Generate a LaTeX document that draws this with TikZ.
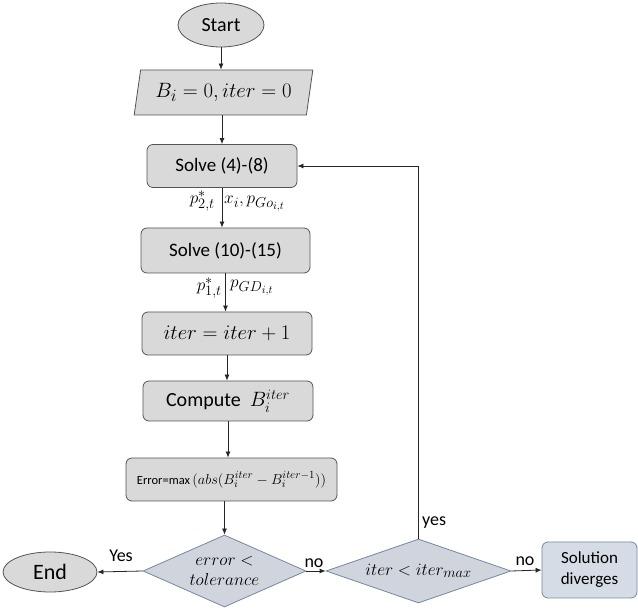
\documentclass[tikz,border=0pt]{standalone}
\usepackage{fontspec}
\setmainfont{Carlito}
\usetikzlibrary{shapes.geometric,arrows.meta}
\makeatletter
\def\defaultscriptratio{.76}
\def\defaultscriptscriptratio{.6}
\makeatother
\definecolor{boxfill}{RGB}{217,217,217}
\definecolor{boxline}{RGB}{85,85,85}
\definecolor{dfill}{RGB}{208,212,220}
\definecolor{dline}{RGB}{118,135,162}
\definecolor{sfill}{RGB}{214,220,229}
\definecolor{sline}{RGB}{118,135,162}
\newcommand{\fs}[1]{\fontsize{#1}{#1}\selectfont}
\begin{document}
\begin{tikzpicture}[x=1pt,y=-1pt,
  font=\fs{19},
  box/.style={draw=boxline, fill=boxfill, rounded corners=6pt, inner sep=0pt, line width=0.8pt},
  oval/.style={ellipse, draw=boxline, fill=boxfill, inner sep=0pt, line width=0.8pt},
  para/.style={trapezium, trapezium left angle=74, trapezium right angle=106, trapezium stretches=true, draw=boxline, fill=boxfill, inner sep=0pt, line width=0.8pt},
  dia/.style={diamond, draw=dline, fill=dfill, inner sep=0pt, line width=0.8pt},
  sbox/.style={draw=sline, fill=sfill, rounded corners=6pt, inner sep=0pt, line width=0.8pt, align=center},
  lbl/.style={inner sep=1pt, font=\fs{19}},
  yn/.style={inner sep=1pt, font=\fs{18}},
  arr/.style={-{Latex[length=6pt,width=5pt]}, line width=0.8pt, draw=black!85}]
\useasboundingbox (0,0) rectangle (638,609);

\node[oval, minimum width=86, minimum height=44, font=\fs{20}] (start) at (221,25) {Start};
\node[para, minimum width=179, minimum height=45, font=\fs{21}] (init) at (223.5,92.5) {$B_i = 0, iter = 0$};
\node[box, minimum width=150, minimum height=43] (s1) at (222,166) {Solve (4)-(8)};
\node[box, minimum width=169, minimum height=45] (s2) at (225.5,250.5) {Solve (10)-(15)};
\node[box, minimum width=170, minimum height=43, font=\fs{20}] (it) at (227,333.5) {$iter = iter + 1$};
\node[box, minimum width=170, minimum height=40, font=\fs{20}] (cb) at (228,401) {Compute\ \ $B_i^{iter}$};
\node[box, minimum width=211, minimum height=43] (err) at (231.5,479.5) {{\fs{12.5}Error=max}{\fs{15}$\,\Bigl(abs\bigl(B_i^{iter}-B_i^{iter-1}\bigr)\Bigr)$}};
\node[dia, minimum width=163, minimum height=72] (d1) at (224.5,571) {};
\node[align=center, font=\fontsize{19}{20}\selectfont] (d1t) at (d1) {$error <$\\$tolerance$};
\node[oval, minimum width=94, minimum height=40, font=\fs{22}] (end) at (50,572) {End};
\node[dia, minimum width=185, minimum height=64] (d2) at (418.5,571) {};
\node[font=\fs{19}] (d2t) at (d2) {$iter < iter_{max}$};
\node[sbox, minimum width=95, minimum height=56, font=\fontsize{17}{21}\selectfont] (sd) at (589.5,570) {Solution\\diverges};

\draw[arr] (start.south) -- (start.south |- init.north);
\draw[arr] (init.south -| s1.north) -- (s1.north);
\draw[arr] (s1.south) -- (s1.south |- s2.north);
\draw[arr] (s2.south) -- (s2.south |- it.north);
\draw[arr] (it.south) -- (it.south |- cb.north);
\draw[arr] (cb.south) -- (cb.south |- err.north);
\draw[arr] (err.south -| d1.north) -- (d1.north);
\draw[arr] (d1.west) -- (end.east);
\draw[arr] (d1.east) -- (d2.west);
\draw[arr] (d2.east) -- (sd.west);
\draw[arr] (d2.north) -- (d2.north |- s1.east) -- (s1.east);

\node[lbl, anchor=east] (l1) at (216,201) {$p^{*}_{2,t}$};
\node[lbl, anchor=west] (l2) at (223,204) {$x_i, p_{{Go}_{i,t}}$};
\node[lbl, anchor=east] (l3) at (223,288) {$p^{*}_{1,t}$};
\node[lbl, anchor=west] (l4) at (229,288) {$p_{{GD}_{i,t}}$};
\node[yn] (yes1) at (121,556) {Yes};
\node[yn] (no1) at (314,563) {no};
\node[yn, anchor=west] (yes2) at (421,523) {yes};
\node[yn] (no2) at (525,561) {no};
\end{tikzpicture}
\end{document}
